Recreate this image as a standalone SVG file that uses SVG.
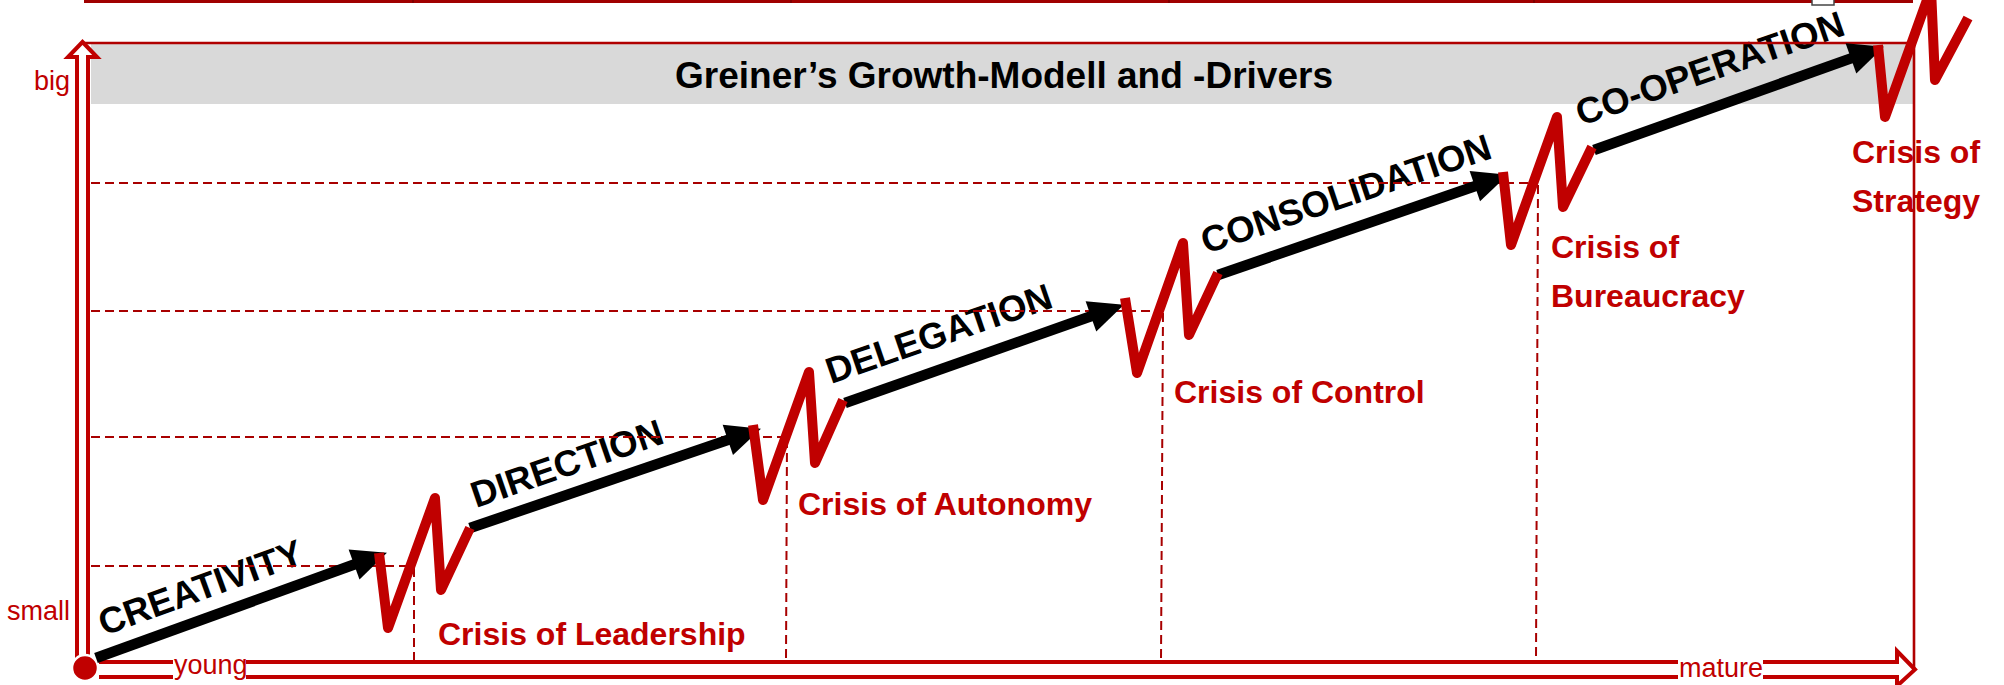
<svg xmlns="http://www.w3.org/2000/svg" width="2004" height="685" viewBox="0 0 2004 685">
<defs>
<style>
.crisis{font-family:"Liberation Sans",Arial,sans-serif;font-weight:bold;font-size:32px;fill:#c00000}
.stage{font-family:"Liberation Sans",Arial,sans-serif;font-weight:bold;font-size:36.5px;fill:#000}
.axis-label{font-family:"Liberation Sans",Arial,sans-serif;font-size:27px;fill:#c00000}
.dash{stroke:#a80000;stroke-width:2;stroke-dasharray:9 5;fill:none}
.shaft{stroke:#000;stroke-width:10.5;fill:none;marker-end:url(#head)}
.zig{stroke:#c00000;stroke-width:10;fill:none;stroke-linejoin:round;stroke-linecap:butt}
.frame{stroke:#b00000;stroke-width:2.6;fill:none}
.axis{stroke:#c00000;stroke-width:4;fill:#fff;stroke-linejoin:miter}
</style>
<marker id="head" markerUnits="userSpaceOnUse" markerWidth="38" markerHeight="34" refX="6" refY="16" orient="auto" overflow="visible">
<path d="M0,0 L35,16 L0,32 Z" fill="#000"/>
</marker>
</defs>
<rect width="2004" height="685" fill="#fff"/>
<g id="top-strip">
<rect x="84" y="0" width="1829" height="3" fill="#a00000"/>
<g stroke="#6a0000" stroke-width="1.2">
<line x1="413" y1="0" x2="413" y2="3"/>
<line x1="791" y1="0" x2="791" y2="3"/>
<line x1="1169" y1="0" x2="1169" y2="3"/>
<line x1="1534" y1="0" x2="1534" y2="3"/>
</g>
<rect x="1812" y="-5" width="22" height="10" fill="#fff" stroke="#444" stroke-width="1.5"/>
</g>
<g id="title">
<rect x="91" y="44" width="1822" height="60" fill="#d9d9d9"/>
<text x="1004" y="88" text-anchor="middle" font-family="Liberation Sans, Arial, sans-serif" font-weight="bold" font-size="37" fill="#000">Greiner’s Growth-Modell and -Drivers</text>
</g>
<g id="stage-labels">
<text class="stage" transform="translate(104,636) rotate(-20)">CREATIVITY</text>
<text class="stage" transform="translate(476,508) rotate(-19)">DIRECTION</text>
<text class="stage" transform="translate(831,384) rotate(-19)">DELEGATION</text>
<text class="stage" transform="translate(1206,254) rotate(-18.5)">CONSOLIDATION</text>
<text class="stage" transform="translate(1581,126) rotate(-19)">CO-OPERATION</text>
</g>
<g id="crisis-labels">
<text class="crisis" x="438" y="645">Crisis of Leadership</text>
<text class="crisis" x="798" y="515">Crisis of Autonomy</text>
<text class="crisis" x="1174" y="403">Crisis of Control</text>
<text class="crisis" x="1551" y="258">Crisis of</text>
<text class="crisis" x="1551" y="307">Bureaucracy</text>
<text class="crisis" x="1852" y="163">Crisis of</text>
<text class="crisis" x="1852" y="212">Strategy</text>
</g>
<g id="guides">
<line class="dash" x1="91" y1="566" x2="413" y2="566"/>
<line class="dash" x1="91" y1="437" x2="787" y2="437"/>
<line class="dash" x1="91" y1="311" x2="1163" y2="311"/>
<line class="dash" x1="91" y1="183" x2="1538" y2="183"/>
<line class="dash" x1="414" y1="568" x2="414" y2="661"/>
<line class="dash" x1="787" y1="439" x2="786" y2="661"/>
<line class="dash" x1="1163" y1="313" x2="1161" y2="661"/>
<line class="dash" x1="1538" y1="185" x2="1536" y2="661"/>
</g>
<g id="frame">
<line class="frame" x1="82" y1="43" x2="1914" y2="43"/>
<line class="frame" x1="1914" y1="43" x2="1914" y2="669"/>
</g>
<g id="axes">
<path class="axis" d="M77,662 L77,57 L68,57 L82.5,42 L97,57 L88,57 L88,662"/>
<path class="axis" d="M99,662 L1897,662 L1897,651 L1915,669.5 L1897,686 L1897,677 L99,677"/>
<rect x="173" y="658" width="73" height="24" fill="#fff"/>
<text class="axis-label" x="174" y="674">young</text>
<rect x="1678" y="658" width="85" height="24" fill="#fff"/>
<text class="axis-label" x="1679" y="677">mature</text>
<text class="axis-label" x="70" y="90" text-anchor="end">big</text>
<text class="axis-label" x="70" y="620" text-anchor="end">small</text>
<circle cx="85" cy="668" r="13" fill="#c00000" stroke="#fff" stroke-width="2.5"/>
</g>
<g id="connectors">
<line class="shaft" x1="96" y1="658" x2="359.7" y2="562.5"/>
<line class="shaft" x1="470" y1="528" x2="733.5" y2="438"/>
<line class="shaft" x1="845" y1="403" x2="1096.6" y2="314.3"/>
<line class="shaft" x1="1218" y1="275" x2="1480.5" y2="184.2"/>
<line class="shaft" x1="1594" y1="150" x2="1856.6" y2="56.4"/>
</g>
<g id="crises">
<polyline class="zig" points="379,553 388,628 435,498 441,590 470,528"/>
<polyline class="zig" points="753,425 763,500 809,372 815,463 843,400"/>
<polyline class="zig" points="1125,298 1137,373 1183,243 1189,335 1218,273"/>
<polyline class="zig" points="1503,172 1511,245 1557,117 1563,207 1592,147"/>
<polyline class="zig" points="1878,45 1885,117 1931,-11 1935,80 1968,18"/>
</g>
</svg>
